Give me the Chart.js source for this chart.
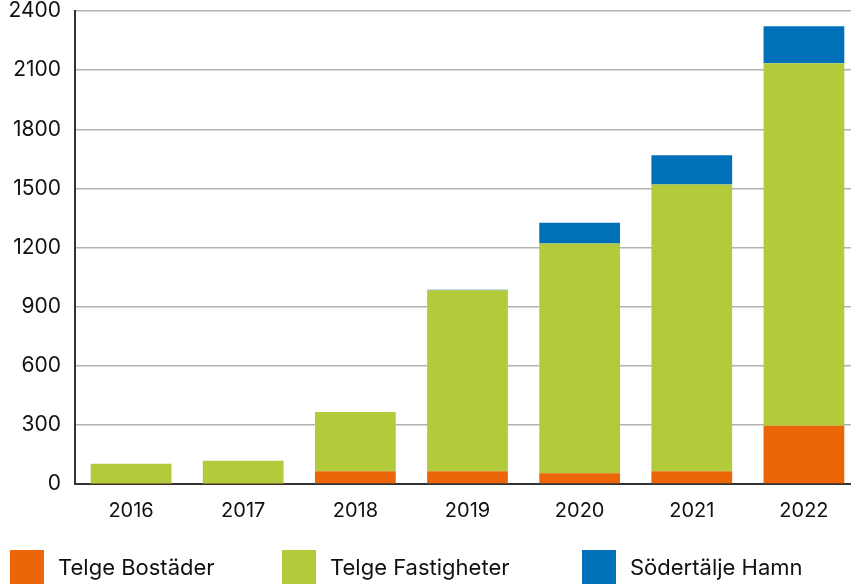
<!DOCTYPE html>
<html>
<head>
<meta charset="utf-8">
<script src="https://cdn.jsdelivr.net/npm/chart.js@4"></script>
<style>
  html, body { margin: 0; padding: 0; background: #fff; overflow: hidden; }
  #wrap { width: 851px; height: 584px; overflow: hidden; }
</style>
</head>
<body>
<div id="wrap"><canvas id="c" width="860" height="584"></canvas></div>
<script>
// Investeringar per bolag och år
const years = ['2016', '2017', '2018', '2019', '2020', '2021', '2022'];
const telgeBostader = [3, 3, 65, 65, 55, 65, 295];
const telgeFastigheter = [100, 115, 300, 918, 1165, 1455, 1840];
const sodertaljeHamn = [0, 0, 0, 3, 105, 148, 188];
const yTicks = [0, 300, 600, 900, 1200, 1500, 1800, 2100, 2400];

const FONT = 'Inter, "Open Sans", sans-serif';

// Legend row along the bottom edge: coloured square + label per dataset
const bottomLegend = {
  id: 'bottomLegend',
  afterDraw(chart) {
    const ctx = chart.ctx;
    const visibleWidth = chart.canvas.parentNode.clientWidth;
    const cols = [0.012, 0.331, 0.684];
    const box = 34;
    const top = chart.height - box;
    ctx.save();
    ctx.font = '22px ' + FONT;
    ctx.textBaseline = 'middle';
    chart.data.datasets.forEach((ds, i) => {
      const x = Math.round(visibleWidth * cols[i]);
      ctx.fillStyle = ds.backgroundColor;
      ctx.fillRect(x, top, box, box);
      ctx.fillStyle = '#111';
      ctx.fillText(ds.label, x + box + 14, top + box / 2 + 1);
    });
    ctx.restore();
  }
};

new Chart(document.getElementById('c'), {
  type: 'bar',
  data: {
    labels: years,
    datasets: [
      { label: 'Telge Bostäder', data: telgeBostader, backgroundColor: '#ec6608' },
      { label: 'Telge Fastigheter', data: telgeFastigheter, backgroundColor: '#b1cb3a' },
      { label: 'Södertälje Hamn', data: sodertaljeHamn, backgroundColor: '#0070b9' }
    ]
  },
  plugins: [bottomLegend],
  options: {
    responsive: false,
    animation: false,
    layout: { padding: { left: 0, right: 0, top: 0, bottom: 46 } },
    datasets: { bar: { categoryPercentage: 1, barPercentage: 0.72, borderWidth: 0 } },
    plugins: {
      tooltip: { enabled: false },
      legend: { display: false }
    },
    scales: {
      x: {
        stacked: true,
        grid: { display: false, drawTicks: false },
        border: { display: true, color: '#333', width: 2 },
        ticks: { color: '#111', padding: 15, font: { family: FONT, size: 20 } }
      },
      y: {
        stacked: true,
        min: 0,
        max: 2400,
        afterFit: (s) => { s.width = 75; s.paddingTop = 11; },
        afterBuildTicks: (axis) => { axis.ticks = yTicks.map(v => ({ value: v })); },
        grid: { color: '#b3b3b3', lineWidth: 1.5, drawTicks: false },
        border: { display: true, color: '#333', width: 2 },
        ticks: {
          color: '#111',
          padding: 14,
          font: { family: FONT, size: 21 },
          callback: (v) => String(v)
        }
      }
    }
  }
});
</script>
</body>
</html>
